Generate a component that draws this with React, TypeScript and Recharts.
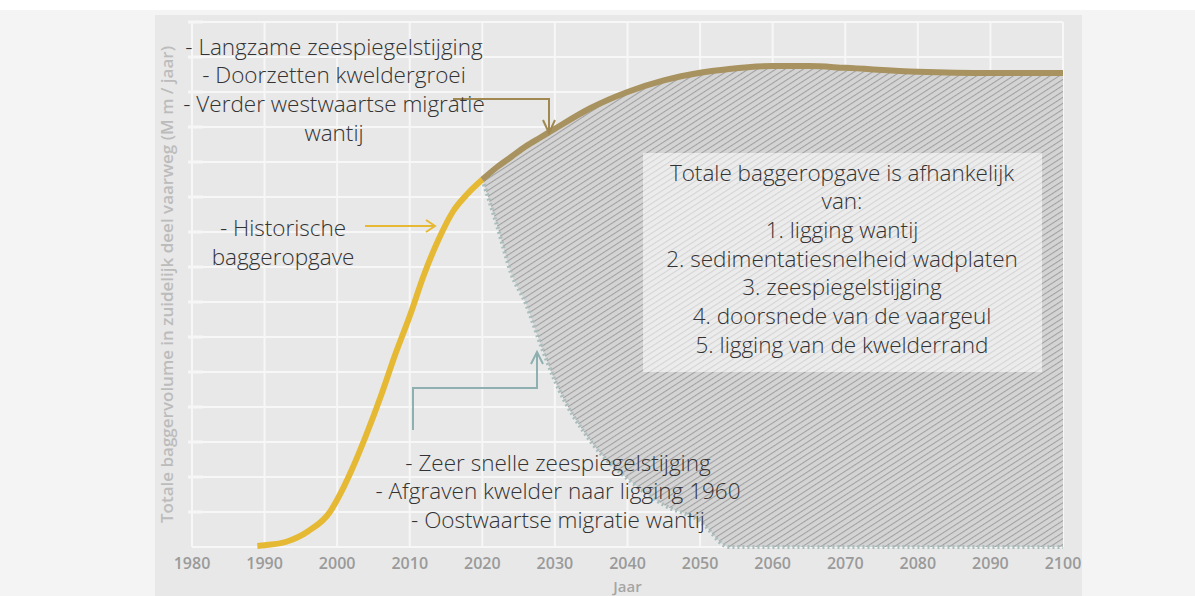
import React from 'react';
import { ComposedChart, Line, Area, XAxis, YAxis, CartesianGrid } from 'recharts';

// Historische baggeropgave (M m3 / jaar)
const historicYears = [1989, 1990, 1993, 1996, 1999, 2000, 2002, 2004, 2006, 2008, 2010, 2012, 2014, 2016, 2018, 2020];
const historicValues = [0.03, 0.05, 0.15, 0.45, 1.0, 1.35, 2.2, 3.2, 4.3, 5.5, 6.6, 7.8, 8.8, 9.6, 10.1, 10.5];

// Toekomst: bovengrens (bruin) en ondergrens (gestippeld)
const futureYears = [2020, 2022, 2024, 2026, 2028, 2030, 2035, 2040, 2045, 2050, 2054, 2060, 2065, 2070, 2080, 2090, 2100];
const upperValues = [10.5, 10.85, 11.15, 11.45, 11.7, 11.95, 12.55, 13.0, 13.33, 13.55, 13.66, 13.74, 13.74, 13.69, 13.58, 13.54, 13.54];
const lowerValues = [10.5, 9.2, 7.8, 6.95, 5.8, 4.75, 3.0, 1.95, 1.2, 0.74, 0, 0, 0, 0, 0, 0, 0];

const xTicks = [1980, 1990, 2000, 2010, 2020, 2030, 2040, 2050, 2060, 2070, 2080, 2090, 2100];
const yTicks = [1, 2, 3, 4, 5, 6, 7, 8, 9, 10, 11, 12, 13, 14, 15];

const topNotes = ['- Langzame zeespiegelstijging', '- Doorzetten kweldergroei', '- Verder westwaartse migratie', 'wantij'];
const historicNotes = ['- Historische', 'baggeropgave'];
const bottomNotes = ['- Zeer snelle zeespiegelstijging', '- Afgraven kwelder naar ligging 1960', '- Oostwaartse migratie wantij'];
const boxNotes = [
  'Totale baggeropgave is afhankelijk',
  'van:',
  '1. ligging wantij',
  '2. sedimentatiesnelheid wadplaten',
  '3. zeespiegelstijging',
  '4. doorsnede van de vaargeul',
  '5. ligging van de kwelderrand',
];

const historicData = historicYears.map((year, i) => ({ year, value: historicValues[i] }));
const futureData = futureYears.map((year, i) => ({
  year,
  upper: upperValues[i],
  lower: lowerValues[i],
  range: [lowerValues[i], upperValues[i]],
}));

const FONT = '"Open Sans", "Noto Sans", sans-serif';

function YTick(props: any) {
  // witte streepjes in plaats van labels
  return <rect x={188} y={props.y - 1.5} width={15} height={3} fill="#f6f6f6" />;
}

function NoteBlock({ lines, cx, top, lh = 28.7, size = 22.5 }: { lines: string[]; cx: number; top: number; lh?: number; size?: number }) {
  return (
    <div
      style={{
        position: 'absolute',
        left: cx - 260,
        top: top - lh / 2,
        width: 520,
        textAlign: 'center',
        fontFamily: FONT,
        fontWeight: 300,
        fontSize: size,
        lineHeight: `${lh}px`,
        color: '#333',
        whiteSpace: 'nowrap',
      }}
    >
      {lines.map((l) => (
        <div key={l}>{l}</div>
      ))}
    </div>
  );
}

export default function App() {
  return (
    <div style={{ position: 'absolute', left: 0, top: 0, width: 1195, height: 596, background: '#f4f4f4', overflow: 'hidden' }}>
      <div style={{ position: 'absolute', left: 0, top: 0, width: 1195, height: 10, background: '#ffffff' }} />
      <div style={{ position: 'absolute', left: 155, top: 15, width: 927, height: 581, background: '#e8e8e8' }} />
      <div style={{ position: 'absolute', left: 0, top: 0 }}>
        <ComposedChart width={1195} height={596} margin={{ top: 22, right: 132, bottom: 0, left: 152 }}>
          <defs>
            <pattern id="hatch" patternUnits="userSpaceOnUse" width={10} height={5} patternTransform="rotate(-33)">
              <rect x={0} y={0} width={10} height={5} fill="#d4d4d4" />
              <line x1={0} y1={0.5} x2={10} y2={0.5} stroke="#a0a0a0" strokeWidth={1.1} />
            </pattern>
          </defs>
          <CartesianGrid stroke="#f7f7f7" strokeWidth={2} />
          <XAxis
            type="number"
            dataKey="year"
            domain={[1980, 2100]}
            ticks={xTicks}
            axisLine={false}
            tickLine={false}
            height={49}
            tickMargin={5}
            tick={{ fill: '#9a9a9a', fontSize: 16, fontFamily: FONT, fontWeight: 600 }}
            label={{ value: 'Jaar', position: 'insideBottom', offset: 4, fill: '#a5a5a5', fontSize: 15, fontFamily: FONT, fontWeight: 600 }}
            allowDuplicatedCategory={false}
          />
          <YAxis
            type="number"
            domain={[0, 15]}
            ticks={yTicks}
            width={40}
            axisLine={false}
            tickLine={false}
            tick={<YTick />}
            label={{
              value: 'Totale baggervolume in zuidelijk deel vaarweg (M m  / jaar)',
              angle: -90,
              position: 'insideLeft',
              offset: 15,
              style: { textAnchor: 'middle', fill: '#bcbcbc', fontSize: 17, fontFamily: FONT, fontWeight: 600 },
            }}
          />
          <Area
            data={futureData}
            dataKey="range"
            type="monotone"
            stroke="none"
            fill="url(#hatch)"
            fillOpacity={1}
            isAnimationActive={false}
          />
          <Line
            data={futureData}
            dataKey="lower"
            type="monotone"
            stroke="#a9bdbc"
            strokeWidth={4}
            strokeDasharray="2 3"
            dot={false}
            isAnimationActive={false}
          />
          <Line
            data={historicData}
            dataKey="value"
            type="monotone"
            stroke="#e6b935"
            strokeWidth={6}
            dot={false}
            isAnimationActive={false}
          />
          <Line
            data={futureData}
            dataKey="upper"
            type="monotone"
            stroke="#a8925f"
            strokeWidth={6}
            dot={false}
            isAnimationActive={false}
          />
        </ComposedChart>
      </div>

      {/* pijlen */}
      <svg width={1195} height={596} style={{ position: 'absolute', left: 0, top: 0, pointerEvents: 'none' }}>
        <polyline points="453,99 549,99 549,133" fill="none" stroke="#a08850" strokeWidth={2} />
        <polyline points="543,120 549,133 555,120" fill="none" stroke="#a08850" strokeWidth={2} />
        <line x1={365} y1={226} x2={435} y2={226} stroke="#e6b935" strokeWidth={2} />
        <polyline points="426,220 435,226 426,232" fill="none" stroke="#e6b935" strokeWidth={2} />
        <polyline points="413,430 413,388 537,388 537,352" fill="none" stroke="#8fb0b0" strokeWidth={2} />
        <polyline points="531,364 537,352 543,364" fill="none" stroke="#8fb0b0" strokeWidth={2} />
      </svg>

      <div style={{ position: 'absolute', left: 643, top: 153, width: 399, height: 219, background: 'rgba(255,255,255,0.55)' }} />
      <NoteBlock lines={topNotes} cx={334} top={47} />
      <NoteBlock lines={historicNotes} cx={283} top={227} lh={29} />
      <NoteBlock lines={bottomNotes} cx={558} top={463} />
      <NoteBlock lines={boxNotes} cx={842} top={173} />
    </div>
  );
}
